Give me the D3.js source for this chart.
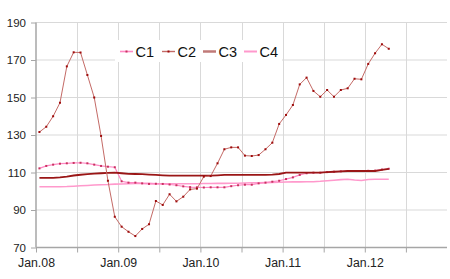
<!DOCTYPE html>
<html><head><meta charset="utf-8">
<script src="https://cdn.jsdelivr.net/npm/d3@7"></script>
<style>body{margin:0;background:#fff}svg{display:block}</style>
</head><body>
<svg id="c" width="450" height="279"></svg>
<script>
const seriesNames = ["C1","C2","C3","C4"];
const c1 = [112.2,113.5,114.2,114.7,114.9,115.1,115.2,114.9,114.2,113.5,113.1,112.8,105.3,104.6,104.6,104.2,103.9,
  104.0,103.9,103.6,103.2,102.6,102.2,102.1,102.0,102.1,102.1,102.1,102.7,103.2,103.5,103.5,104.2,104.6,105.1,105.6,
  106.5,107.4,108.7,109.6,109.9,109.9,110.2,110.4,110.6,110.8,110.8,110.8,110.9,111.0,111.6,112.0];
const c2 = [131.6,134.4,140,147.2,166.6,174.1,174,162,150,129.5,105.6,86.4,81.1,78.4,76.1,79.9,82.4,94.8,92.7,98.4,
  94.6,97.1,101,101.4,107.8,108.1,114.9,122.4,123.4,123.4,119,118.8,119.3,122.4,125.9,135.9,140.7,146,157,160.6,
  153.5,150.4,154,150.4,154,154.9,160,159.7,167.9,173.6,178.4,176];
const c3 = [107.1,107.1,107.1,107.4,107.8,108.4,108.8,109.1,109.4,109.6,109.8,109.9,109.6,109.3,109.2,109.1,108.9,
  108.7,108.5,108.3,108.3,108.3,108.3,108.3,108.3,108.3,108.5,108.7,108.7,108.7,108.7,108.7,108.7,108.7,108.9,109.2,
  109.9,109.9,109.9,109.9,109.9,109.9,110.2,110.4,110.6,110.8,110.8,110.8,110.8,110.8,111.4,111.9];
const c4 = [102.4,102.4,102.4,102.4,102.5,102.7,102.9,103.1,103.3,103.5,103.6,103.8,103.9,104.0,104.1,104.2,104.2,
  104.0,104.0,104.0,104.0,104.0,104.0,104.0,104.1,104.1,104.2,104.2,104.3,104.3,104.4,104.5,104.5,104.6,104.7,104.8,
  104.9,105.0,105.0,105.1,105.1,105.3,105.6,105.9,106.2,106.4,106.0,105.7,106.3,106.4,106.4,106.4];
const xTickMonths = [0,6,12,18,24,30,36,42,48,54];
const xTickLabels = {0:"Jan.08",12:"Jan.09",24:"Jan.10",36:"Jan.11",48:"Jan.12"};
const yTicks = [70,90,110,130,150,170,190];

const svg = d3.select("#c");
const x = d3.scaleLinear().domain([0,60]).range([36,447]);
const y = d3.scaleLinear().domain([70,190]).range([247.5,22.5]);

// grid
svg.append("g").selectAll("line").data(yTicks.slice(1)).join("line")
  .attr("x1",36).attr("x2",447).attr("y1",d=>y(d)).attr("y2",d=>y(d))
  .attr("stroke","#d9d9d9").attr("stroke-width",1);
svg.append("g").selectAll("line").data(xTickMonths.slice(1)).join("line")
  .attr("x1",d=>Math.round(x(d))+0.5).attr("x2",d=>Math.round(x(d))+0.5).attr("y1",y(190)).attr("y2",y(70))
  .attr("stroke","#d9d9d9").attr("stroke-width",1);

// axes
const yAxis = d3.axisLeft(y).tickValues(yTicks).tickSize(5).tickPadding(5);
const gy = svg.append("g").attr("transform","translate(36,0)").call(yAxis);
const xAxis = d3.axisBottom(x).tickValues(xTickMonths).tickSize(5).tickPadding(6)
  .tickFormat(d=>xTickLabels[d]||"");
const gx = svg.append("g").attr("transform",`translate(0,${y(70)})`).call(xAxis);
[gx,gy].forEach(g=>{
  g.selectAll("path").attr("stroke","#a6a6a6").attr("stroke-width",1.5);
  g.selectAll("line").attr("stroke","#a6a6a6").attr("stroke-width",1);
  g.selectAll("text").attr("font-family","Liberation Sans, Arial, sans-serif").attr("font-size",11.5).attr("fill","#222");
});
gx.selectAll("text").attr("font-size",12.3);
gx.select(".domain").attr("d",`M36,0H447`);
gy.select(".domain").attr("d",`M0,${y(190)}V${y(70)}`);

const xm = i => x(i+0.5);
const line = d3.line().x((d,i)=>xm(i)).y(d=>y(d));

const styles = [
  {data:c1, stroke:"#ff88c4", w:1.2, marker:"#c8325f"},
  {data:c2, stroke:"#c46a66", w:1, marker:"#9e0b0b"},
  {data:c3, stroke:"#9a1616", w:1.8, marker:null},
  {data:c4, stroke:"#ff99cc", w:1.6, marker:null},
];
// draw order: C4, C1, C3, C2
[3,0,2,1].forEach(k=>{
  const s = styles[k];
  svg.append("path").datum(s.data).attr("d",line).attr("fill","none")
    .attr("stroke",s.stroke).attr("stroke-width",s.w);
  if (s.marker) {
    svg.append("g").selectAll("rect").data(s.data).join("rect")
      .attr("x",(d,i)=>xm(i)-1).attr("y",d=>y(d)-1).attr("width",2).attr("height",2)
      .attr("fill",s.marker);
  }
});

// legend
const lg = svg.append("g");
lg.append("rect").attr("x",115).attr("y",40).attr("width",167).attr("height",22).attr("fill","#fff");
const lx = [120,162,203,244];
seriesNames.forEach((n,k)=>{
  const s = styles[k];
  lg.append("line").attr("x1",lx[k]).attr("x2",lx[k]+13).attr("y1",51.5).attr("y2",51.5)
    .attr("stroke",k===2?"#c07a78":s.stroke).attr("stroke-width",k===2?2.5:s.w+0.4);
  if (s.marker) lg.append("rect").attr("x",lx[k]+5.5).attr("y",50.5).attr("width",2).attr("height",2).attr("fill",s.marker);
  lg.append("text").attr("x",lx[k]+15.5).attr("y",56.5).text(n)
    .attr("font-family","Liberation Sans, Arial, sans-serif").attr("font-size",14.5).attr("fill","#111");
});
</script>
</body></html>
